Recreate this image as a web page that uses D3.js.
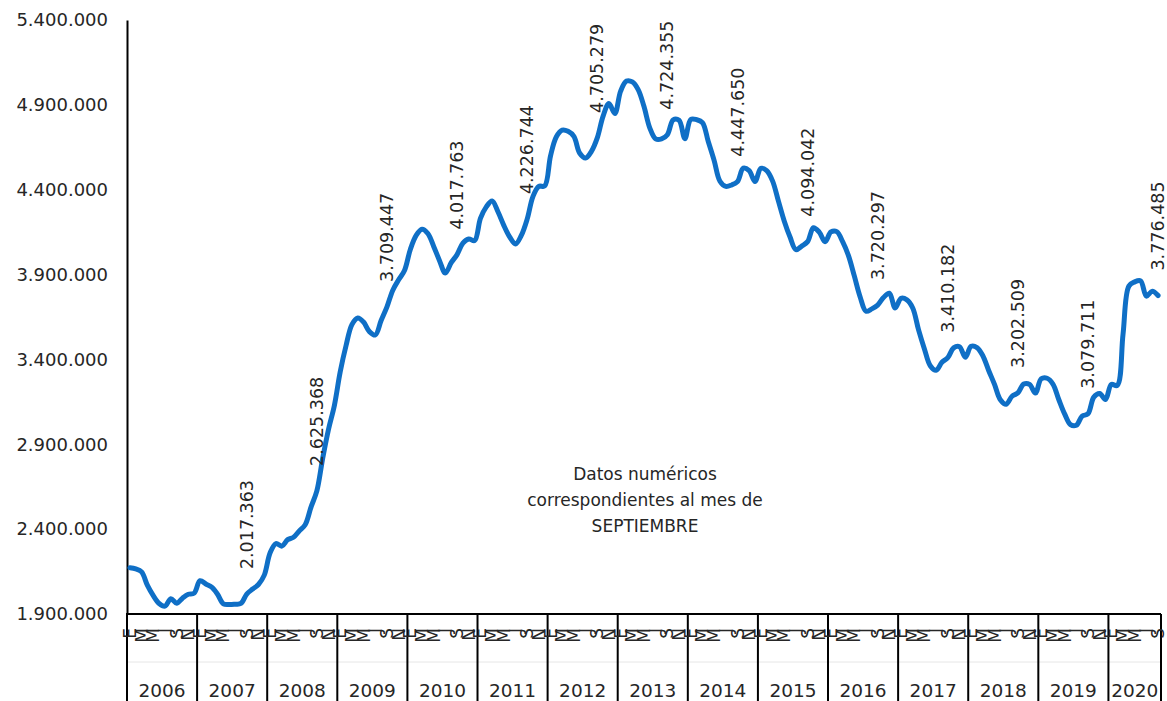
<!DOCTYPE html>
<html>
<head>
<meta charset="utf-8">
<script src="https://cdn.jsdelivr.net/npm/d3@7"></script>
<style>
  body { margin: 0; background: #ffffff; }
  text { font-family: "DejaVu Sans", sans-serif; fill: #262626; }
</style>
</head>
<body>
<svg id="chart" width="1167" height="701"></svg>
<script>
// ---------- DATA ----------
const years = [2006, 2007, 2008, 2009, 2010, 2011, 2012, 2013, 2014, 2015, 2016, 2017, 2018, 2019, 2020];
const monthLetters = ["E", "F", "M", "A", "M", "J", "J", "A", "S", "O", "N", "D"];
const shownMonths = [0, 2, 4, 6, 8, 10];
const yTicks = [1900000, 2400000, 2900000, 3400000, 3900000, 4400000, 4900000, 5400000];

const v2006 = [2172000, 2166000, 2148000, 2068000, 2008000, 1962000, 1946000, 1990000, 1963000, 1993000, 2016000, 2023000];
const v2007 = [2096000, 2077000, 2058000, 2016000, 1960000, 1956000, 1958000, 1962000, 2017363, 2047000, 2074000, 2129000];
const v2008 = [2261000, 2315000, 2300000, 2338000, 2352000, 2390000, 2426000, 2530000, 2625368, 2818000, 2989000, 3129000];
const v2009 = [3327000, 3482000, 3605000, 3644000, 3620000, 3564000, 3544000, 3629000, 3709447, 3808000, 3869000, 3924000];
const v2010 = [4048000, 4131000, 4167000, 4142000, 4066000, 3982000, 3909000, 3970000, 4017763, 4085000, 4110000, 4100000];
const v2011 = [4231000, 4299000, 4334000, 4270000, 4190000, 4122000, 4080000, 4131000, 4226744, 4361000, 4420000, 4422000];
const v2012 = [4600000, 4712000, 4751000, 4744000, 4714000, 4615000, 4587000, 4626000, 4705279, 4834000, 4908000, 4849000];
const v2013 = [4981000, 5040000, 5035000, 4990000, 4890000, 4763000, 4699000, 4699000, 4724355, 4812000, 4809000, 4701000];
const v2014 = [4814000, 4813000, 4796000, 4684000, 4573000, 4450000, 4420000, 4428000, 4447650, 4527000, 4512000, 4448000];
const v2015 = [4526000, 4512000, 4452000, 4334000, 4216000, 4121000, 4047000, 4068000, 4094042, 4176000, 4150000, 4094000];
const v2016 = [4151000, 4153000, 4094000, 4012000, 3892000, 3768000, 3684000, 3698000, 3720297, 3765000, 3790000, 3703000];
const v2017 = [3760000, 3751000, 3703000, 3574000, 3462000, 3363000, 3336000, 3383000, 3410182, 3468000, 3475000, 3413000];
const v2018 = [3477000, 3470000, 3422000, 3335000, 3253000, 3163000, 3136000, 3183000, 3202509, 3255000, 3253000, 3202000];
const v2019 = [3286000, 3289000, 3255000, 3164000, 3079000, 3016000, 3012000, 3066000, 3079711, 3178000, 3199000, 3164000];
const v2020 = [3253000, 3246000, 3548000, 3832000, 3857000, 3863000, 3773000, 3802000, 3776485];

const valuesByYear = [v2006, v2007, v2008, v2009, v2010, v2011, v2012, v2013, v2014, v2015, v2016, v2017, v2018, v2019, v2020];
const labelYears = [2007, 2008, 2009, 2010, 2011, 2012, 2013, 2014, 2015, 2016, 2017, 2018, 2019, 2020];
const labelMonthIndex = 8; // septiembre
const noteLines = ["Datos numéricos", "correspondientes al mes de", "SEPTIEMBRE"];

// ---------- BUILD ----------
const points = [];
valuesByYear.forEach((arr, yi) => {
  arr.forEach((v, m) => points.push({ i: points.length, year: years[yi], month: m, value: v }));
});
const N = points.length;

const locale = d3.formatLocale({ decimal: ",", thousands: ".", grouping: [3], currency: ["", " €"] });
const fmt = locale.format(",d");

const svg = d3.select("#chart");
const M = { left: 127, right: 1161, top: 20, bottom: 614 };

const x = d3.scaleBand().domain(d3.range(N)).range([M.left, M.right]).padding(0);
const y = d3.scaleLinear().domain([1900000, 5400000]).range([M.bottom, M.top]);
const cx = i => x(i) + x.bandwidth() / 2;

// y axis
const yAxis = d3.axisLeft(y).tickValues(yTicks).tickFormat(fmt).tickSize(0).tickSizeOuter(0).tickPadding(19);
const gy = svg.append("g").attr("transform", `translate(${M.left},0)`).call(yAxis);
gy.select(".domain").attr("stroke", "#000").attr("stroke-width", 2);
gy.selectAll("text").style("font-family", "DejaVu Sans, sans-serif").style("font-size", "18px").attr("fill", "#262626");

// x axis line
svg.append("line").attr("x1", M.left - 1).attr("x2", M.right).attr("y1", M.bottom).attr("y2", M.bottom)
  .attr("stroke", "#000").attr("stroke-width", 2);

// faint separator between month & year rows
svg.append("line").attr("x1", M.left).attr("x2", M.right).attr("y1", 662).attr("y2", 662)
  .attr("stroke", "#e6e6e6").attr("stroke-width", 1);

// year boundaries
const yearStarts = years.map(yr => points.findIndex(p => p.year === yr));
const boundaries = yearStarts.map(i => x(i)).concat([M.right]);
svg.selectAll(".ysep").data(boundaries).enter().append("line")
  .attr("x1", d => d).attr("x2", d => d).attr("y1", M.bottom).attr("y2", 701)
  .attr("stroke", "#000").attr("stroke-width", 2);

// month labels (rotated, overlapping like the original)
const monthPts = points.filter(p => shownMonths.includes(p.month));
svg.selectAll(".mlab").data(monthPts).enter().append("text")
  .attr("transform", d => `translate(${x(d.i) + 3},${M.bottom + 14}) rotate(-90)`)
  .attr("dy", "0.35em")
  .attr("text-anchor", "end")
  .style("font-size", "17px")
  .text(d => monthLetters[d.month]);

// year labels
years.forEach((yr, k) => {
  const x0 = boundaries[k], x1 = boundaries[k + 1];
  svg.append("text").attr("x", (x0 + x1) / 2).attr("y", 697)
    .attr("text-anchor", "middle").style("font-size", "18.5px").text(yr);
});

// line
const line = d3.line().x(d => cx(d.i)).y(d => y(d.value)).curve(d3.curveCatmullRom.alpha(0.5));
svg.append("path").datum(points).attr("d", line)
  .attr("fill", "none").attr("stroke", "#0f6fc6").attr("stroke-width", 5)
  .attr("stroke-linejoin", "round").attr("stroke-linecap", "round");

// data labels (September)
const labelled = points.filter(p => p.month === labelMonthIndex && labelYears.includes(p.year));
svg.selectAll(".dlab").data(labelled).enter().append("text")
  .attr("transform", d => `translate(${cx(d.i)},${y(d.value) - 25}) rotate(-90)`)
  .attr("dy", "0.35em")
  .attr("text-anchor", "start")
  .style("font-size", "17.5px")
  .text(d => fmt(d.value));

// note
svg.append("text").attr("x", 645).attr("y", 480).attr("text-anchor", "middle")
  .style("font-size", "17px")
  .selectAll("tspan").data(noteLines).enter().append("tspan")
  .attr("x", 645).attr("dy", (d, i) => i === 0 ? 0 : 26).text(d => d);
</script>
</body>
</html>
